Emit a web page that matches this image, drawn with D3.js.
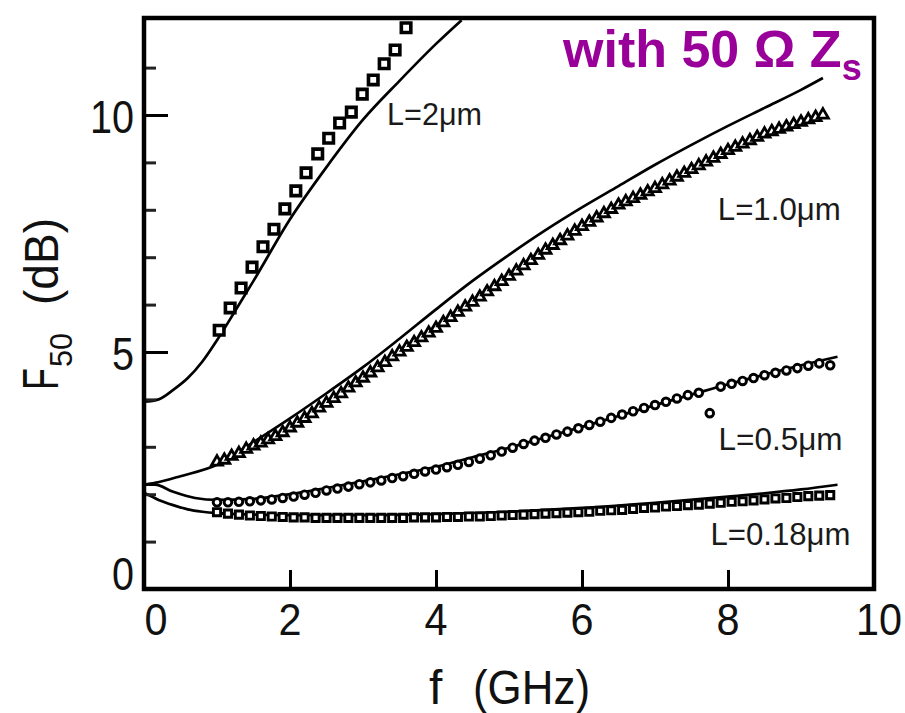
<!DOCTYPE html>
<html><head><meta charset="utf-8">
<script src="https://cdn.jsdelivr.net/npm/d3@7"></script>
<style>html,body{margin:0;padding:0;background:#fff}</style>
</head><body><svg id="c" width="905" height="713"></svg>
<script>
// ---- tick values ----
const xTickVals = [0, 2, 4, 6, 8, 10];
const xInnerTicks = [2, 4, 6, 8];
const yLabelVals = [0, 5, 10];
const yMajorTicks = [5, 10];
const yMinorTicks = [1, 2, 3, 4, 6, 7, 8, 9, 11];

// ---- L = 2 um ----
const fL2 = [1.03,1.18,1.33,1.48,1.63,1.78,1.93,2.08,2.22,2.38,2.53,2.68,2.84,2.99,3.14,3.29,3.44,3.59];
const mL2 = [5.46,5.93,6.35,6.79,7.22,7.59,8.02,8.40,8.78,9.18,9.51,9.83,10.06,10.44,10.74,11.08,11.37,11.84];
const fLineL2 = [0,0.2,0.4,0.6,0.8,1.0,1.25,1.5,2.0,2.5,3.0,3.5,4.0,4.35];
const vLineL2 = [3.95,4.0,4.2,4.45,4.8,5.25,5.87,6.5,7.8,8.9,9.9,10.72,11.5,12.0];

// ---- L = 1.0 um ----
const fL10 = [1.0,1.1,1.2,1.3,1.4,1.5,1.6,1.7,1.8,1.9,2.0,2.1,2.2,2.3,2.4,2.5,2.6,2.7,2.8,2.9,
  3.0,3.1,3.2,3.3,3.4,3.5,3.6,3.7,3.8,3.9,4.0,4.1,4.2,4.3,4.4,4.5,4.6,4.7,4.8,4.9,
  5.0,5.1,5.2,5.3,5.4,5.5,5.6,5.7,5.8,5.9,6.0,6.1,6.2,6.3,6.4,6.5,6.6,6.7,6.8,6.9,
  7.0,7.1,7.2,7.3,7.4,7.5,7.6,7.7,7.8,7.9,8.0,8.1,8.2,8.3,8.4,8.5,8.6,8.7,8.8,8.9,
  9.0,9.1,9.2,9.3];
const mL10 = [2.68,2.72,2.80,2.86,2.95,3.02,3.08,3.15,3.22,3.30,3.40,3.50,3.60,3.70,3.82,3.92,4.02,4.12,4.24,4.35,
  4.45,4.56,4.67,4.78,4.90,5.00,5.10,5.20,5.30,5.40,5.50,5.62,5.73,5.84,5.95,6.05,6.16,6.27,6.38,6.49,
  6.60,6.71,6.82,6.93,7.04,7.15,7.25,7.35,7.45,7.55,7.65,7.74,7.83,7.92,8.01,8.10,8.17,8.24,8.31,8.38,
  8.45,8.53,8.61,8.69,8.77,8.85,8.93,9.01,9.09,9.17,9.25,9.32,9.39,9.46,9.53,9.60,9.65,9.70,9.75,9.80,
  9.85,9.90,9.95,10.00];
const fLineL10 = [0,0.15,0.5,1.0,1.5,2.0,2.5,3.0,3.5,4.0,4.5,5.0,5.5,6.0,6.5,7.0,7.5,8.0,8.5,9.0,9.3];
const vLineL10 = [2.2,2.24,2.38,2.62,3.1,3.6,4.13,4.68,5.28,5.9,6.5,7.05,7.57,8.05,8.5,8.95,9.37,9.77,10.15,10.53,10.78];

// ---- L = 0.5 um and L = 0.18 um (shared frequency grid) ----
const fGrid = [1.00,1.15,1.30,1.45,1.60,1.75,1.90,2.05,2.20,2.35,2.50,2.65,2.80,2.95,3.10,3.25,3.40,3.55,3.70,3.85,
  4.00,4.15,4.30,4.45,4.60,4.75,4.90,5.05,5.20,5.35,5.50,5.65,5.80,5.95,6.10,6.25,6.40,6.55,6.70,6.85,
  7.00,7.15,7.30,7.45,7.60,7.75,7.90,8.05,8.20,8.35,8.50,8.65,8.80,8.95,9.10,9.25,9.40];
const mL05 = [1.83,1.83,1.84,1.85,1.87,1.89,1.92,1.95,1.99,2.03,2.08,2.12,2.16,2.21,2.25,2.29,2.34,2.38,2.43,2.48,
  2.52,2.57,2.62,2.68,2.75,2.82,2.90,2.98,3.06,3.13,3.19,3.26,3.32,3.39,3.46,3.53,3.61,3.68,3.75,3.82,
  3.88,3.95,4.02,4.09,4.14,3.71,4.27,4.33,4.39,4.45,4.51,4.56,4.61,4.66,4.71,4.76,4.72];
const mL018 = [1.62,1.59,1.57,1.55,1.54,1.53,1.52,1.51,1.51,1.50,1.50,1.50,1.50,1.50,1.50,1.50,1.50,1.50,1.51,1.51,
  1.51,1.52,1.52,1.53,1.53,1.54,1.55,1.56,1.57,1.58,1.59,1.60,1.61,1.62,1.63,1.65,1.66,1.67,1.69,1.71,
  1.72,1.74,1.75,1.77,1.78,1.80,1.82,1.84,1.85,1.87,1.89,1.91,1.92,1.94,1.96,1.97,1.98];
const fLineL05 = [0,0.15,0.4,0.7,1.0,1.5,2.0,2.5,3.0,3.5,4.0,4.5,5.0,5.5,6.0,6.5,7.0,7.5,8.0,8.5,9.0,9.5];
const vLineL05 = [2.2,2.2,2.05,1.92,1.88,1.9,2.0,2.13,2.27,2.42,2.58,2.78,2.98,3.2,3.42,3.65,3.88,4.1,4.32,4.52,4.72,4.9];
const fLineL018 = [0,0.2,0.4,0.6,0.8,1.0,1.5,2.0,3.0,4.0,5.0,6.0,7.0,8.0,9.0,9.5];
const vLineL018 = [2.03,1.88,1.77,1.68,1.63,1.6,1.57,1.56,1.56,1.58,1.63,1.71,1.82,1.95,2.1,2.2];

// ---- labels ----
const curveLabels = ["L=2\u03bcm", "L=1.0\u03bcm", "L=0.5\u03bcm", "L=0.18\u03bcm"];
const curveLabelAt = [[3.33, 125], [7.86, 220], [7.87, 450], [7.76, 545]]; // [f position, baseline px]
const labelLen = [95, 123, 124, 140];

// ---- layout ----
const W = 905, H = 713;
const pL = 144, pR = 874, pT = 18, pB = 589;
const FONT = "'Liberation Sans', Arial, Helvetica, sans-serif";

const svg = d3.select("#c");
svg.append("rect").attr("width", W).attr("height", H).attr("fill", "#fff");

const x = d3.scaleLinear().domain([0, 10]).range([pL, pR]);
const y = d3.scaleLinear().domain([0, (pB - pT) / 47.4]).range([pB, pT]);

svg.append("clipPath").attr("id", "clip").append("rect")
  .attr("x", pL).attr("y", pT).attr("width", pR - pL).attr("height", pB - pT);

const plot = svg.append("g").attr("clip-path", "url(#clip)");

const zip = (fa, va) => fa.map((f, i) => ({f, v: va[i]}));
const line = d3.line().x(d => x(d.f)).y(d => y(d.v)).curve(d3.curveMonotoneX);

[[fLineL2, vLineL2], [fLineL10, vLineL10], [fLineL05, vLineL05], [fLineL018, vLineL018]].forEach(([fa, va]) => {
  plot.append("path").datum(zip(fa, va)).attr("d", line)
    .attr("fill", "none").attr("stroke", "#000").attr("stroke-width", 2.7);
});

function markers(fa, va, type, size, sw) {
  const sym = d3.symbol().type(type).size(size);
  plot.append("g").selectAll("path").data(zip(fa, va)).join("path")
    .attr("transform", d => `translate(${x(d.f)},${y(d.v)})`)
    .attr("d", sym).attr("fill", "#fff").attr("stroke", "#000").attr("stroke-width", sw);
}
markers(fGrid, mL018, d3.symbolSquare, 52, 2.9);
markers(fGrid, mL05, d3.symbolCircle, 46, 2.9);
markers(fL10, mL10, d3.symbolTriangle, 52, 2.8);
markers(fL2, mL2, d3.symbolSquare, 90, 3.6);

// ---- axes (inward ticks) ----
const xAxis = d3.axisBottom(x).tickValues(xInnerTicks).tickSize(-19).tickFormat("");
svg.append("g").attr("transform", `translate(0,${pB})`).call(xAxis)
  .call(g => g.select(".domain").remove())
  .call(g => g.selectAll("line").attr("stroke", "#000").attr("stroke-width", 3));

const yAxisMajor = d3.axisLeft(y).tickValues(yMajorTicks).tickSize(-24).tickFormat("");
svg.append("g").attr("transform", `translate(${pL},0)`).call(yAxisMajor)
  .call(g => g.select(".domain").remove())
  .call(g => g.selectAll("line").attr("stroke", "#000").attr("stroke-width", 3));
const yAxisMinor = d3.axisLeft(y).tickValues(yMinorTicks).tickSize(-12).tickFormat("");
svg.append("g").attr("transform", `translate(${pL},0)`).call(yAxisMinor)
  .call(g => g.select(".domain").remove())
  .call(g => g.selectAll("line").attr("stroke", "#222").attr("stroke-width", 3));

// frame
svg.append("rect").attr("x", pL).attr("y", pT).attr("width", pR - pL).attr("height", pB - pT)
  .attr("fill", "none").attr("stroke", "#000").attr("stroke-width", 4.5);

// tick labels
svg.append("g").selectAll("text").data(xTickVals).join("text")
  .attr("x", d => x(d) + (d === 0 ? 12 : (d === 10 ? 5 : 0)))
  .attr("y", 635)
  .attr("text-anchor", "middle")
  .attr("font-family", FONT).attr("font-size", 45).attr("fill", "#111")
  .attr("textLength", d => String(d).length * 23).attr("lengthAdjust", "spacingAndGlyphs")
  .text(d => d);

svg.append("g").selectAll("text").data(yLabelVals).join("text")
  .attr("x", 134)
  .attr("y", d => y(d) + (d === 0 ? 1 : 18))
  .attr("text-anchor", "end")
  .attr("font-family", FONT).attr("font-size", 46).attr("fill", "#111")
  .attr("textLength", d => String(d).length * 22).attr("lengthAdjust", "spacingAndGlyphs")
  .text(d => d);

// x title
svg.append("text").attr("x", 429).attr("y", 704)
  .attr("font-family", FONT).attr("font-size", 48).attr("fill", "#111").text("f");
svg.append("text").attr("x", 473).attr("y", 704)
  .attr("font-family", FONT).attr("font-size", 48).attr("fill", "#111")
  .attr("textLength", 117).attr("lengthAdjust", "spacingAndGlyphs").text("(GHz)");

// y title (rotated)
const yt = svg.append("g").attr("transform", "translate(58,390) rotate(-90)");
yt.append("text").attr("x", 0).attr("y", 0)
  .attr("font-family", FONT).attr("font-size", 50).attr("fill", "#111")
  .attr("textLength", 22).attr("lengthAdjust", "spacingAndGlyphs").text("F");
yt.append("text").attr("x", 23).attr("y", 14)
  .attr("font-family", FONT).attr("font-size", 32).attr("fill", "#111")
  .attr("textLength", 34).attr("lengthAdjust", "spacingAndGlyphs").text("50");
yt.append("text").attr("x", 85).attr("y", 0)
  .attr("font-family", FONT).attr("font-size", 48).attr("fill", "#111")
  .attr("textLength", 87).attr("lengthAdjust", "spacingAndGlyphs").text("(dB)");

// curve labels
svg.append("g").selectAll("text").data(curveLabels).join("text")
  .attr("x", (d, i) => x(curveLabelAt[i][0]))
  .attr("y", (d, i) => curveLabelAt[i][1])
  .attr("font-family", FONT).attr("font-size", 31).attr("fill", "#1a1a1a")
  .attr("textLength", (d, i) => labelLen[i]).attr("lengthAdjust", "spacingAndGlyphs")
  .text(d => d);

// annotation
const ann = svg.append("text").attr("x", 563).attr("y", 67)
  .attr("font-family", FONT).attr("font-size", 52).attr("font-weight", "bold").attr("fill", "#990099");
ann.append("tspan").text("with 50 \u03a9 Z");
ann.append("tspan").attr("dy", 13).attr("font-size", 36).text("s");
</script>
</body></html>
